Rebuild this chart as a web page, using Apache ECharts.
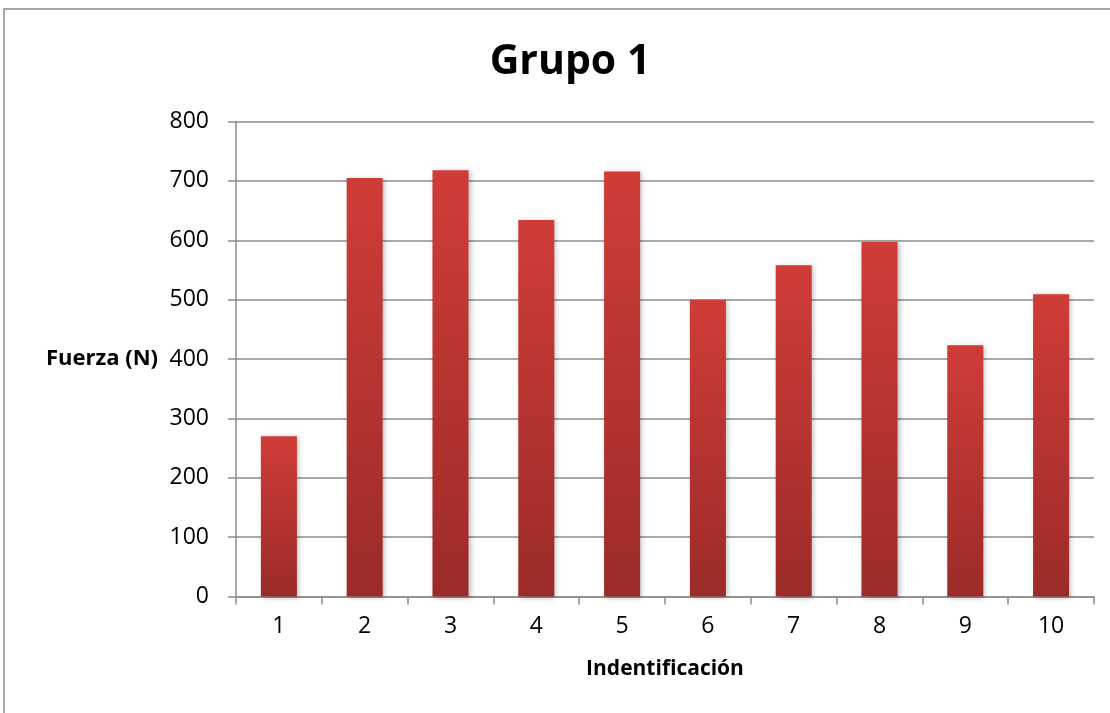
<!DOCTYPE html>
<html>
<head>
<meta charset="utf-8">
<script src="https://cdn.jsdelivr.net/npm/echarts@6/dist/echarts.min.js"></script>
<style>
  html, body { margin: 0; padding: 0; background: #ffffff; }
  #chart { width: 1110px; height: 713px; }
</style>
</head>
<body>
<div id="chart"></div>
<script>
// Fuerza medida por identificación
const categories = ['1', '2', '3', '4', '5', '6', '7', '8', '9', '10'];
const fuerza = [270, 705, 718, 634, 716, 500, 558, 597, 423, 509];
const yTicks = { min: 0, max: 800, interval: 100 };

const chart = echarts.init(document.getElementById('chart'), null, { renderer: 'canvas' });

const font = '"Open Sans", Lato, "DejaVu Sans", sans-serif';

chart.setOption({
  backgroundColor: '#ffffff',
  animation: false,
  title: {
    text: 'Grupo 1',
    left: 565,
    textAlign: 'center',
    top: 37,
    textStyle: { fontFamily: font, fontSize: 41, fontWeight: 'bold', color: '#000' }
  },
  graphic: [{
    type: 'rect',
    shape: { x: 4, y: 9, width: 1200, height: 800 },
    style: { fill: 'none', stroke: '#8a8a8a', lineWidth: 1.5 },
    silent: true,
    z: -1
  }],
  grid: { left: 236, right: 16, top: 121.5, bottom: 116.5 },
  xAxis: {
    type: 'category',
    data: categories,
    name: 'Indentificación',
    nameLocation: 'middle',
    nameGap: 62,
    nameTextStyle: { fontFamily: font, fontSize: 21, fontWeight: 'bold', color: '#000' },
    axisLine: { lineStyle: { color: '#8c8c8c', width: 1.5 } },
    axisTick: { show: true, length: 8, alignWithLabel: false, lineStyle: { color: '#8c8c8c', width: 1.5 } },
    axisLabel: { fontFamily: font, fontSize: 23, color: '#000', margin: 18 }
  },
  yAxis: {
    type: 'value',
    min: yTicks.min,
    max: yTicks.max,
    interval: yTicks.interval,
    name: 'Fuerza (N)',
    nameLocation: 'middle',
    nameRotate: 0,
    nameGap: 78,
    nameTextStyle: { fontFamily: font, fontSize: 22, fontWeight: 'bold', color: '#000', align: 'right' },
    axisLine: { show: true, lineStyle: { color: '#8c8c8c', width: 1.5 } },
    axisTick: { show: true, length: 8, lineStyle: { color: '#8c8c8c', width: 1.5 } },
    axisLabel: { fontFamily: font, fontSize: 23, color: '#000', margin: 27 },
    splitLine: { show: true, lineStyle: { color: '#8c8c8c', width: 1.5 } }
  },
  series: [{
    type: 'bar',
    data: fuerza,
    barWidth: '42%',
    itemStyle: {
      color: new echarts.graphic.LinearGradient(0, 0, 0, 1, [
        { offset: 0, color: '#d03c38' },
        { offset: 1, color: '#9b2b29' }
      ]),
      shadowColor: 'rgba(0,0,0,0.25)',
      shadowBlur: 5,
      shadowOffsetX: 2,
      shadowOffsetY: 1
    }
  }]
});
</script>
</body>
</html>
